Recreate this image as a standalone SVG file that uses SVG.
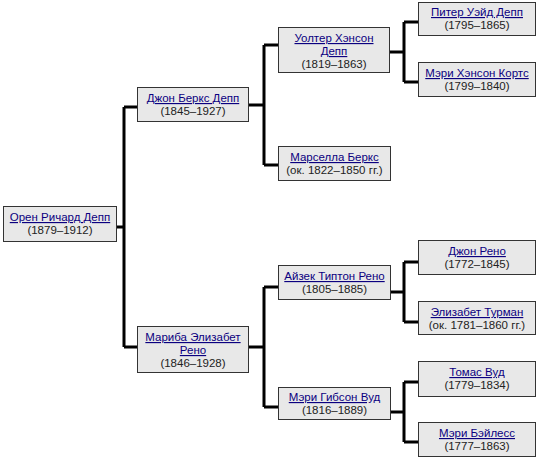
<svg xmlns="http://www.w3.org/2000/svg" width="538" height="465" viewBox="0 0 538 465">
<style>
.box{fill:#e8e8e8;stroke:#333;stroke-width:1}
text{font-family:"Liberation Sans",Arial,sans-serif;font-size:11.5px;text-anchor:middle}
.ln{fill:#0b0080;text-decoration:underline}
.dt{fill:#222}
.c{fill:none;stroke:#000;stroke-width:3}
</style>
<rect width="538" height="465" fill="#fff"/>
<g id="connectors">
<path class="c" d="M117 227H124M124 107V347M124 107H137M124 347H137"/>
<path class="c" d="M249 105H264M264 45V165M264 45H278M264 165H278"/>
<path class="c" d="M249 347H264M264 287V407M264 287H278M264 407H278"/>
<path class="c" d="M390 52H404M404 22V82M404 22H418M404 82H418"/>
<path class="c" d="M391 292H404M404 262V322M404 262H418M404 322H418"/>
<path class="c" d="M391 412H404M404 382V442M404 382H418M404 442H418"/>
</g>
<g id="oren"><rect class="box" x="3.5" y="206.5" width="113" height="35"/><text class="ln" x="60" y="221">Орен Ричард Депп</text><text class="dt" x="60" y="234">(1879–1912)</text></g>
<g id="john-berks"><rect class="box" x="137.5" y="87.5" width="111" height="34"/><text class="ln" x="193" y="102">Джон Беркс Депп</text><text class="dt" x="193" y="115">(1845–1927)</text></g>
<g id="mariba"><rect class="box" x="137.5" y="326.5" width="111" height="46"/><text class="ln" x="193" y="341">Мариба Элизабет</text><text class="ln" x="193" y="354">Рено</text><text class="dt" x="193" y="367">(1846–1928)</text></g>
<g id="walter"><rect class="box" x="278.5" y="27.5" width="111" height="45"/><text class="ln" x="334" y="42">Уолтер Хэнсон</text><text class="ln" x="334" y="55">Депп</text><text class="dt" x="334" y="68">(1819–1863)</text></g>
<g id="marcella"><rect class="box" x="278.5" y="146.5" width="112" height="34"/><text class="ln" x="334.5" y="161">Марселла Беркс</text><text class="dt" x="334.5" y="174">(ок. 1822–1850 гг.)</text></g>
<g id="isaac"><rect class="box" x="278.5" y="265.5" width="112" height="34"/><text class="ln" x="334.5" y="280">Айзек Типтон Рено</text><text class="dt" x="334.5" y="293">(1805–1885)</text></g>
<g id="mary-gibson"><rect class="box" x="278.5" y="387.5" width="112" height="32"/><text class="ln" x="334.5" y="401">Мэри Гибсон Вуд</text><text class="dt" x="334.5" y="414">(1816–1889)</text></g>
<g id="peter"><rect class="box" x="418.5" y="2.5" width="117" height="33"/><text class="ln" x="477" y="16">Питер Уэйд Депп</text><text class="dt" x="477" y="29">(1795–1865)</text></g>
<g id="mary-courts"><rect class="box" x="418.5" y="62.5" width="117" height="34"/><text class="ln" x="477" y="77">Мэри Хэнсон Кортс</text><text class="dt" x="477" y="90">(1799–1840)</text></g>
<g id="john-reno"><rect class="box" x="418.5" y="240.5" width="117" height="34"/><text class="ln" x="477" y="255">Джон Рено</text><text class="dt" x="477" y="268">(1772–1845)</text></g>
<g id="elizabeth"><rect class="box" x="418.5" y="301.5" width="117" height="33"/><text class="ln" x="477" y="316">Элизабет Турман</text><text class="dt" x="477" y="329">(ок. 1781–1860 гг.)</text></g>
<g id="thomas"><rect class="box" x="418.5" y="361.5" width="117" height="35"/><text class="ln" x="477" y="376">Томас Вуд</text><text class="dt" x="477" y="389">(1779–1834)</text></g>
<g id="mary-bayless"><rect class="box" x="418.5" y="422.5" width="117" height="34"/><text class="ln" x="477" y="437">Мэри Бэйлесс</text><text class="dt" x="477" y="450">(1777–1863)</text></g>
</svg>
